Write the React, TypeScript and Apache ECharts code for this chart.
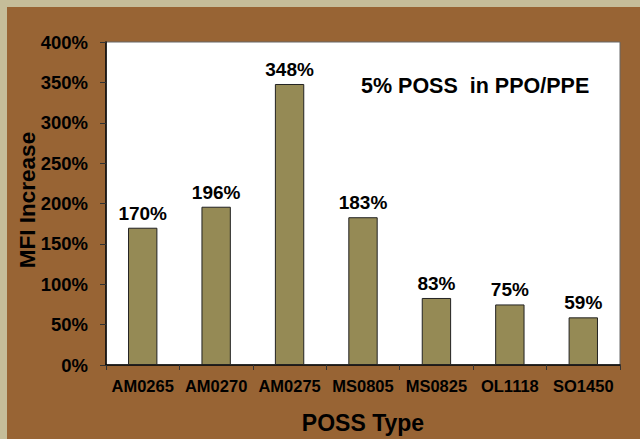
import React, { useEffect, useRef } from "react";
import * as echarts from "echarts";

const categories = ["AM0265", "AM0270", "AM0275", "MS0805", "MS0825", "OL1118", "SO1450"];
const values = [170, 196, 348, 183, 83, 75, 59];
const yTicks = { min: 0, max: 400, interval: 50 };
const titleText = "5% POSS  in PPO/PPE";
const xName = "POSS Type";
const yName = "MFI Increase";

export default function App() {
  const ref = useRef<HTMLDivElement>(null);
  useEffect(() => {
    const chart = echarts.init(ref.current!, null, { renderer: "svg" });
    const font = "'Liberation Sans', Arial, sans-serif";
    chart.setOption({
      animation: false,
      backgroundColor: "#986434",
      textStyle: { fontFamily: font },
      graphic: [
        { type: "rect", shape: { x: 0, y: 0, width: 640, height: 7 }, style: { fill: "#c5bd99" }, z: -1 },
        { type: "rect", shape: { x: 0, y: 0, width: 7, height: 439 }, style: { fill: "#c5bd99" }, z: -1 },
        {
          type: "text",
          x: 361,
          y: 86,
          style: { text: titleText, font: `bold 21.5px ${font}`, fill: "#000", verticalAlign: "middle" },
          z: 10,
        },
        {
          type: "text",
          x: 27,
          y: 200,
          rotation: Math.PI / 2,
          style: { text: yName, font: `bold 22.5px ${font}`, fill: "#000", align: "center", verticalAlign: "middle" },
          z: 10,
        },
      ],
      grid: {
        left: 106,
        top: 42,
        width: 514,
        height: 325,
        show: true,
        backgroundColor: "#ffffff",
        borderColor: "#666",
        borderWidth: 1,
      },
      xAxis: {
        type: "category",
        data: categories,
        name: xName,
        nameLocation: "middle",
        nameGap: 46,
        nameTextStyle: { fontWeight: "bold", fontSize: 23, color: "#000", fontFamily: font },
        axisLine: { lineStyle: { color: "#000", width: 1.5 } },
        axisTick: { show: true, inside: false, length: 5, lineStyle: { color: "#333" } },
        axisLabel: { interval: 0, fontWeight: "bold", fontSize: 16.5, color: "#000", margin: 12, fontFamily: font },
      },
      yAxis: {
        type: "value",
        min: yTicks.min,
        max: yTicks.max,
        interval: yTicks.interval,
        axisLine: { show: true, lineStyle: { color: "#000", width: 1.5 } },
        axisTick: { show: true, inside: false, length: 6, lineStyle: { color: "#333" } },
        splitLine: { show: false },
        axisLabel: { formatter: "{value}%", fontWeight: "bold", fontSize: 18.5, color: "#000", margin: 18, fontFamily: font },
      },
      series: [
        {
          type: "bar",
          data: values,
          barWidth: "40%",
          itemStyle: { color: "#958a55", borderColor: "#222", borderWidth: 1 },
          label: {
            show: true,
            position: "top",
            distance: 5,
            formatter: "{c}%",
            fontWeight: "bold",
            fontSize: 19,
            color: "#000",
            fontFamily: font,
          },
        },
      ],
    });
    return () => chart.dispose();
  }, []);
  return (
    <div style={{ position: "fixed", left: 0, top: 0, width: 640, height: 439 }}>
      <div ref={ref} style={{ width: 640, height: 439 }} />
    </div>
  );
}
